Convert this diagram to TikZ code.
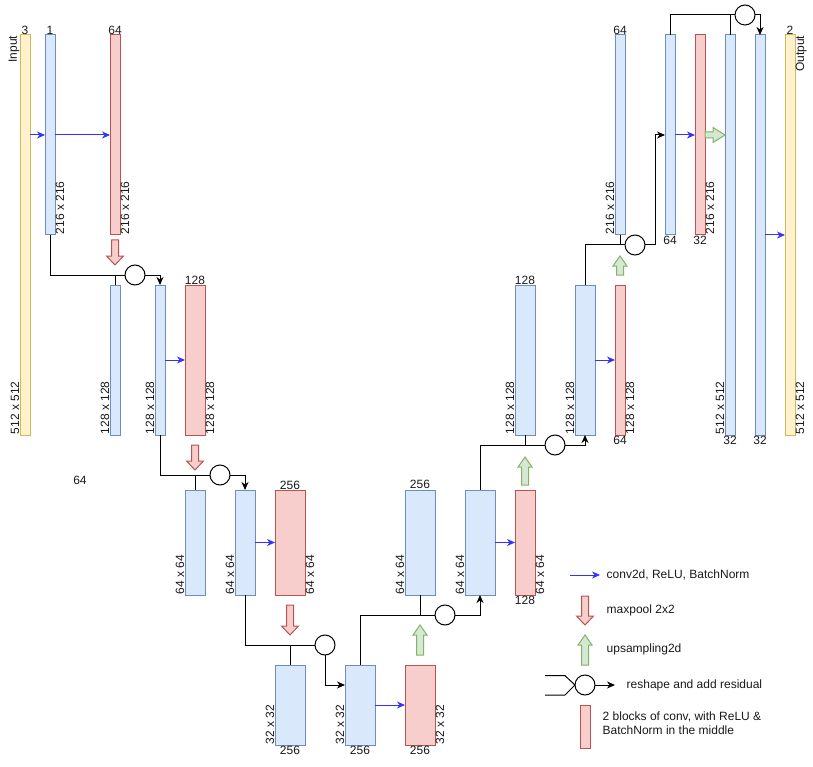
\documentclass[tikz,border=0pt]{standalone}
\usepackage{fontspec}
\setmainfont{Liberation Sans}
\usetikzlibrary{arrows.meta,calc}
\definecolor{bfill}{HTML}{DAE8FC}\definecolor{bdraw}{HTML}{6C8EBF}
\definecolor{rfill}{HTML}{F8CECC}\definecolor{rdraw}{HTML}{B85450}
\definecolor{yfill}{HTML}{FFF2CC}\definecolor{ydraw}{HTML}{D6B656}
\definecolor{gfill}{HTML}{D5E8D4}\definecolor{gdraw}{HTML}{82B366}
\definecolor{convc}{HTML}{3333FF}
\tikzset{
 blk/.style={rectangle, draw, line width=1pt, inner sep=0pt, outer sep=0pt},
 bluebar/.style={blk, fill=bfill, draw=bdraw},
 redbar/.style={blk, fill=rfill, draw=rdraw},
 yelbar/.style={blk, fill=yfill, draw=ydraw},
 conv/.style={draw=convc, line width=1pt, -{Stealth[length=8pt,width=7pt,inset=2.5pt]}},
 skip/.style={draw=black, line width=1pt},
 skiparr/.style={skip, -{Stealth[length=8pt,width=7pt,inset=2.5pt]}},
 addc/.style={circle, draw, line width=1pt, fill=white, minimum size=20pt, inner sep=0pt, outer sep=0pt},
 pool/.style={draw=rdraw, fill=rfill, line width=1pt},
 upsm/.style={draw=gdraw, fill=gfill, line width=1pt},
 lbl/.style={font=\fontsize{12pt}{14pt}\selectfont, inner sep=0.5pt, text=black!90},
 rl/.style={lbl, rotate=90},
}
\newcommand\mkblk[6]{\node[#1, minimum width={(#5-#3)*1pt}, minimum height={(#6-#4)*1pt}] (#2) at ({(#3+#5)/2},{(#4+#6)/2}) {};}
\newcommand\darr[3]{\draw[pool] ({#1-3.5},#2) -- ({#1+3.5},#2) -- ({#1+3.5},{#3-9}) -- ({#1+8.5},{#3-9}) -- (#1,#3) -- ({#1-8.5},{#3-9}) -- ({#1-3.5},{#3-9}) -- cycle;}
\newcommand\uarr[3]{\draw[upsm] ({#1-3.5},#2) -- ({#1+3.5},#2) -- ({#1+3.5},{#3+10}) -- ({#1+7},{#3+10}) -- (#1,#3) -- ({#1-7},{#3+10}) -- ({#1-3.5},{#3+10}) -- cycle;}
\begin{document}
\begin{tikzpicture}[x=1pt,y=-1pt]
\useasboundingbox (0,0) rectangle (813,767);
% blocks
\mkblk{yelbar}{in}{20}{35}{30}{435}
\mkblk{bluebar}{b1}{45}{35}{55}{235}
\mkblk{redbar}{r1}{110}{35}{120}{235}
\mkblk{bluebar}{A2}{110}{285}{120}{435}
\mkblk{bluebar}{B2}{155}{285}{165}{435}
\mkblk{redbar}{R2}{185}{285}{205}{435}
\mkblk{bluebar}{A3}{185}{490}{205}{595}
\mkblk{bluebar}{B3}{235}{490}{255}{595}
\mkblk{redbar}{R3}{275}{490}{305}{595}
\mkblk{bluebar}{A4}{275}{665}{305}{745}
\mkblk{bluebar}{B4}{345}{665}{375}{745}
\mkblk{redbar}{C4}{405}{665}{435}{745}
\mkblk{bluebar}{U4}{405}{490}{435}{595}
\mkblk{bluebar}{B5}{465}{490}{495}{595}
\mkblk{redbar}{R5}{515}{490}{535}{595}
\mkblk{bluebar}{U5}{515}{285}{535}{435}
\mkblk{bluebar}{B6}{575}{285}{595}{435}
\mkblk{redbar}{R6}{615}{285}{625}{435}
\mkblk{bluebar}{U6}{615}{35}{625}{235}
\mkblk{bluebar}{B7}{665}{35}{675}{235}
\mkblk{redbar}{R7}{695}{35}{705}{235}
\mkblk{bluebar}{C7}{725}{35}{735}{435}
\mkblk{bluebar}{D7}{755}{35}{765}{435}
\mkblk{yelbar}{out}{785}{35}{795}{435}
% conv arrows
\draw[conv] (b1.west -| in.east) -- (b1.west);
\draw[conv] (b1.east) -- (r1.west);
\draw[conv] (B2.east) -- (R2.west);
\draw[conv] (B3.east) -- (R3.west);
\draw[conv] (B4.east) -- (C4.west);
\draw[conv] (B5.east) -- (R5.west);
\draw[conv] (B6.east) -- (R6.west);
\draw[conv] (B7.east) -- (R7.west);
\draw[conv] (D7.east) -- (out.west);
% skip connections
\node[addc] (c1) at (135,275) {};
\draw[skip] (b1.south) |- (c1.west);
\draw[skip] (A2.north) -- (A2.north |- c1.west);
\draw[skiparr] (c1.east) -| (B2.north);
\node[addc] (c2) at (220,475) {};
\draw[skip] (B2.south) |- (c2.west);
\draw[skip] (A3.north) -- (A3.north |- c2.west);
\draw[skiparr] (c2.east) -| (B3.north);
\node[addc] (c3) at (325,645) {};
\draw[skip] (B3.south) |- (c3.west);
\draw[skip] (A4.north) -- (A4.north |- c3.west);
\draw[skiparr] (c3.south) |- ($(B4.north west)!0.25!(B4.south west)$);
\node[addc] (c4) at (445,615) {};
\draw[skip] (B4.north) |- (c4.west);
\draw[skip] (U4.south) -- (U4.south |- c4.west);
\draw[skiparr] (c4.east) -| (B5.south);
\node[addc] (c5) at (555,445) {};
\draw[skip] (B5.north) |- (c5.west);
\draw[skip] (U5.south) -- (U5.south |- c5.west);
\draw[skiparr] (c5.east) -| (B6.south);
\node[addc] (c6) at (635,245) {};
\draw[skip] (B6.north) |- (c6.west);
\draw[skip] (U6.south) -- (U6.south |- c6.west);
\draw[skiparr] (c6.east) -- ++(10,0) |- (B7.west);
\node[addc] (c7) at (745,15) {};
\draw[skip] (B7.north) |- (c7.west);
\draw[skip] (C7.north) -- (C7.north |- c7.west);
\draw[skiparr] (c7.east) -| (D7.north);
% maxpool / upsampling arrows
\darr{115}{240}{265}
\darr{195}{445}{470}
\darr{290}{605}{635}
\uarr{420}{655}{625}
\uarr{525}{485}{457}
\uarr{620}{275}{256}
\draw[upsm] (705,132) -- (713,132) -- (713,127.5) -- (725,135) -- (713,142.5) -- (713,138) -- (705,138) -- cycle;
% top labels
\node[lbl, anchor=south] at (in.north) {3};
\node[lbl, anchor=south] at (b1.north) {1};
\node[lbl, anchor=south] at (r1.north) {64};
\node[lbl, anchor=south] at (R2.north) {128};
\node[lbl, anchor=south] at (R3.north) {256};
\node[lbl, anchor=south, fill=white, inner sep=0.5pt] at ([yshift=1pt]U4.north) {256};
\node[lbl, anchor=south] at (U5.north) {128};
\node[lbl, anchor=south] at (U6.north) {64};
\node[lbl, anchor=south] at (out.north) {2};
% bottom labels
\node[lbl, anchor=north] at (A4.south) {256};
\node[lbl, anchor=north] at (B4.south) {256};
\node[lbl, anchor=north] at (C4.south) {256};
\node[lbl, anchor=north] at (R5.south) {128};
\node[lbl, anchor=north] at (R6.south) {64};
\node[lbl, anchor=north] at (B7.south) {64};
\node[lbl, anchor=north] at (R7.south) {32};
\node[lbl, anchor=north] at (C7.south) {32};
\node[lbl, anchor=north] at (D7.south) {32};
% rotated labels
\node[rl, anchor=south east] at (in.north west) {Input};
\node[rl, anchor=north east] at (out.north east) {Output};
\node[rl, anchor=south west] at (in.south west) {512 x 512};
\node[rl, anchor=north west] at (out.south east) {512 x 512};
\node[rl, anchor=north west] at (b1.south east) {216 x 216};
\node[rl, anchor=north west] at (r1.south east) {216 x 216};
\node[rl, anchor=south west] at (A2.south west) {128 x 128};
\node[rl, anchor=south west] at (B2.south west) {128 x 128};
\node[rl, anchor=north west] at (R2.south east) {128 x 128};
\node[rl, anchor=south west] at (A3.south west) {64 x 64};
\node[rl, anchor=south west] at (B3.south west) {64 x 64};
\node[rl, anchor=north west] at (R3.south east) {64 x 64};
\node[rl, anchor=south west] at (A4.south west) {32 x 32};
\node[rl, anchor=south west] at (B4.south west) {32 x 32};
\node[rl, anchor=north west] at (C4.south east) {32 x 32};
\node[rl, anchor=south west] at (U4.south west) {64 x 64};
\node[rl, anchor=south west] at (B5.south west) {64 x 64};
\node[rl, anchor=north west] at (R5.south east) {64 x 64};
\node[rl, anchor=south west] at (U5.south west) {128 x 128};
\node[rl, anchor=south west] at (B6.south west) {128 x 128};
\node[rl, anchor=north west] at (R6.south east) {128 x 128};
\node[rl, anchor=south west] at (U6.south west) {216 x 216};
\node[rl, anchor=north west] at (R7.south east) {216 x 216};
\node[rl, anchor=south west] at (C7.south west) {512 x 512};
% stray label
\node[lbl] (s64) at (80,480) {64};
% legend
\coordinate (lc1) at (570,575);
\coordinate (lc2) at (600,575);
\draw[conv] (lc1) -- (lc2);
\node[lbl, anchor=west] (t1) at (606,575) {conv2d, ReLU, BatchNorm};
\darr{585}{596}{625}
\node[lbl, anchor=west] (t2) at (606,610) {maxpool 2x2};
\uarr{585}{665}{635}
\node[lbl, anchor=west] (t3) at (606,649) {upsampling2d};
\node[addc] (lres) at (585,685) {};
\draw[skip] (545,675.7) -- (565,675.7) -- (lres.west);
\draw[skip] (545,695) -- (565,695) -- (lres.west);
\coordinate (lra) at (615,685);
\draw[skiparr] (lres.east) -- (lra);
\node[lbl, anchor=west] (t4) at (626,685) {reshape and add residual};
\mkblk{redbar}{lrb}{580}{705}{590}{748}
\node[lbl, anchor=north west, align=left] (t5) at (602,711) {2 blocks of conv, with ReLU \&\\BatchNorm in the middle};
\end{tikzpicture}
\end{document}
